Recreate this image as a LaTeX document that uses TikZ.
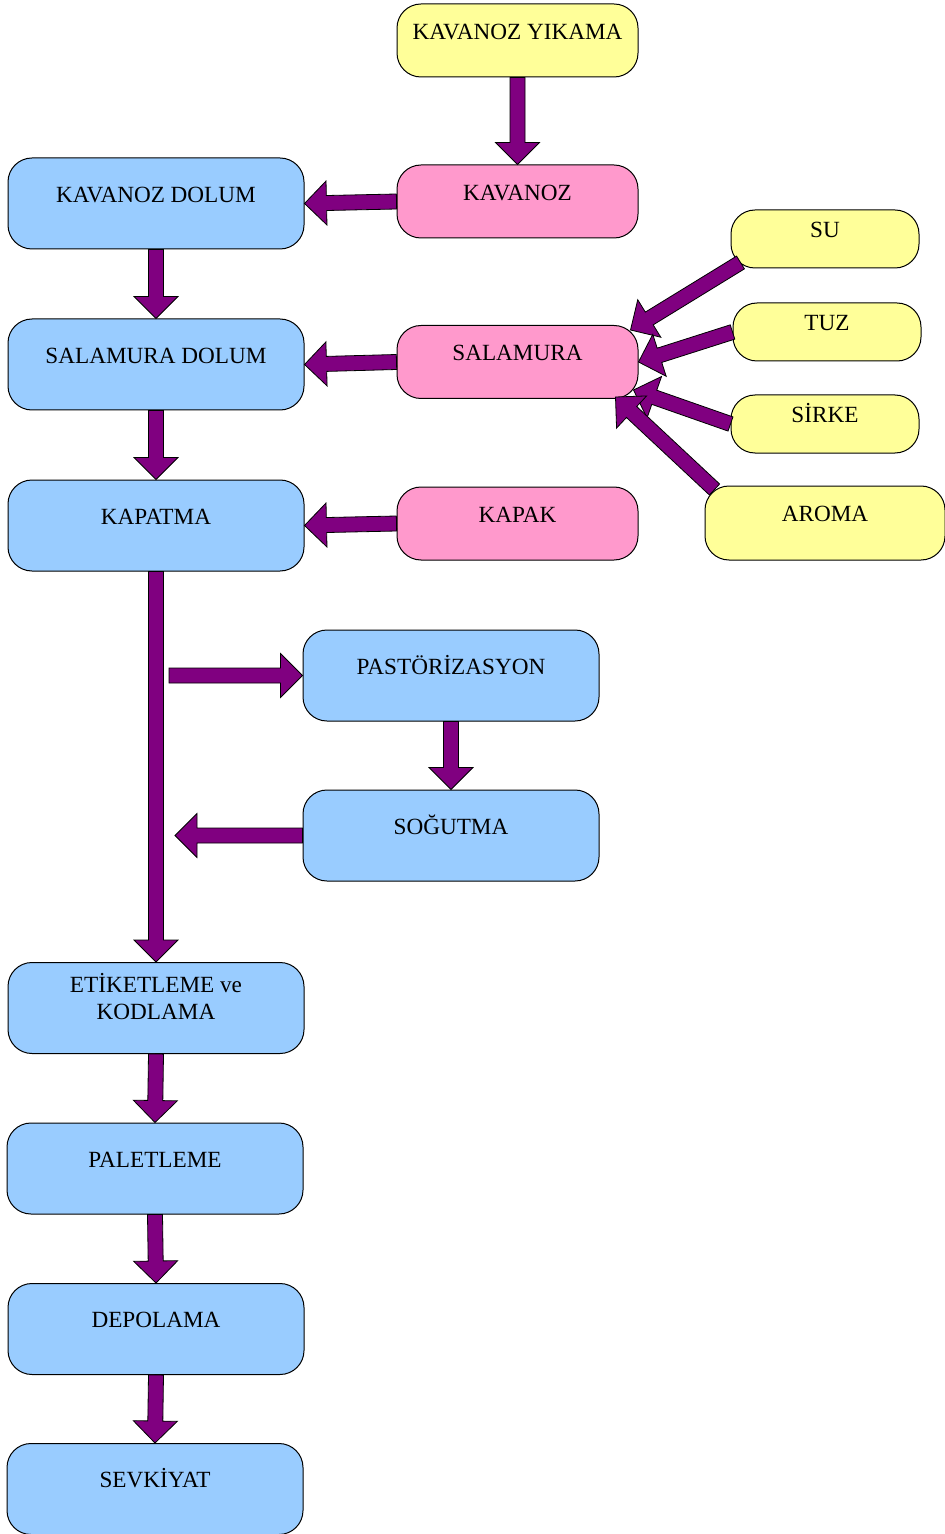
\documentclass[tikz,border=0pt]{standalone}
\usepackage{fontspec}
\setmainfont{Liberation Serif}
\usetikzlibrary{calc}

\definecolor{flowpurple}{HTML}{800080}
\definecolor{stepblue}{HTML}{99CCFF}
\definecolor{inpink}{HTML}{FF99CC}
\definecolor{rawyellow}{HTML}{FFFF99}

\tikzset{
  box/.style={draw=black, line width=0.5pt, rounded corners=12pt, inner sep=0pt},
  stepbox/.style={box, fill=stepblue, minimum width=148pt, minimum height=45.5pt},
  inbox/.style={box, minimum width=120.5pt, minimum height=36.5pt},
  smallbox/.style={box, fill=rawyellow, minimum width=94pt, minimum height=29pt},
  lbltext/.style={font=\fontsize{11.6}{13.5}\selectfont, align=center, yshift=4.5pt, inner sep=0pt},
  lbl/.style={lbltext, text height=7.6pt, text depth=0pt},
  barrow/.style={draw=black, line width=0.4pt, fill=flowpurple},
}

% block arrow from #1 to #2: shaft 7.5pt wide, head 22pt wide and 11pt long
\newcommand\flowarrow[2]{%
  \path[barrow] let \p1=(#1), \p2=(#2),
      \n1={atan2(\y2-\y1,\x2-\x1)}, \n2={veclen(\x2-\x1,\y2-\y1)} in
    ($(\p1)+({\n1+90}:3.75pt)$) -- ++({\n1}:{\n2-11pt}) -- ++({\n1+90}:7.25pt) -- (\p2)
    -- ($(\p2)+({\n1+180}:11pt)+({\n1-90}:11pt)$) -- ++({\n1+90}:7.25pt)
    -- ++({\n1+180}:{\n2-11pt}) -- cycle;}

\begin{document}
\begin{tikzpicture}[x=0.5pt, y=-0.5pt]
\useasboundingbox (0,0) rectangle (945,1534);

% supplies
\node[inbox, fill=rawyellow] (ky)  at (517.5,40.5) [label={[lbl]center:KAVANOZ YIKAMA}] {};
\node[inbox, fill=inpink]    (kav) at (517.5,201.5) [label={[lbl]center:KAVANOZ}] {};
\node[inbox, fill=inpink]    (sal) at (517.5,362) [label={[lbl]center:SALAMURA}] {};
\node[inbox, fill=inpink]    (kpk) at (517.5,523.5) [label={[lbl]center:KAPAK}] {};

\node[smallbox] (su)  at (825,239) [label={[lbl]center:SU}] {};
\node[smallbox] (tuz) at (827,332) [label={[lbl]center:TUZ}] {};
\node[smallbox] (sir) at (825,424) [label={[lbl]center:SİRKE}] {};
\node[inbox, fill=rawyellow, minimum width=120pt, minimum height=37pt] (aro) at (825,523) [label={[lbl]center:AROMA}] {};

% process steps
\node[stepbox] (kd)  at (156,203.5) [label={[lbl]center:KAVANOZ DOLUM}] {};
\node[stepbox] (sd)  at (156,364.5) [label={[lbl]center:SALAMURA DOLUM}] {};
\node[stepbox] (kap) at (156,525.5) [label={[lbl]center:KAPATMA}] {};
\node[stepbox] (pas) at (451,675.5) [label={[lbl]center:PASTÖRİZASYON}] {};
\node[stepbox] (sog) at (451,835.5) [label={[lbl]center:SOĞUTMA}] {};
\node[stepbox] (etk) at (156,1008) [label={[lbltext, yshift=1pt]center:ETİKETLEME ve\\KODLAMA}] {};
\node[stepbox] (pal) at (155,1168.5) [label={[lbl]center:PALETLEME}] {};
\node[stepbox] (dep) at (156,1329) [label={[lbl]center:DEPOLAMA}] {};
\node[stepbox] (sev) at (155,1489) [label={[lbl]center:SEVKİYAT}] {};

% arrow end points
\coordinate (suout)  at ([shift={(10,-6)}]su.south west);
\coordinate (suin)   at ([shift={(-8,5)}]sal.north east);
\coordinate (sirin)  at ([shift={(-5,-9)}]sal.south east);
\coordinate (aroout) at ([shift={(10,4)}]aro.north west);
\coordinate (aroin)  at ([shift={(-23,-2)}]sal.south east);
\coordinate (topas)  at (169,675.5);
\coordinate (back)   at (175,835.5);

% connectors
\flowarrow{ky.south}{kav.north}
\flowarrow{kav.west}{kd.east}
\flowarrow{kd.south}{sd.north}
\flowarrow{sal.west}{sd.east}
\flowarrow{sd.south}{kap.north}
\flowarrow{kpk.west}{kap.east}
\flowarrow{suout}{suin}
\flowarrow{tuz.west}{sal.east}
\flowarrow{sir.west}{sirin}
\flowarrow{aroout}{aroin}
\flowarrow{kap.south}{etk.north}
\flowarrow{topas}{pas.west}
\flowarrow{pas.south}{sog.north}
\flowarrow{sog.west}{back}
\flowarrow{etk.south}{pal.north}
\flowarrow{pal.south}{dep.north}
\flowarrow{dep.south}{sev.north}
\end{tikzpicture}
\end{document}
